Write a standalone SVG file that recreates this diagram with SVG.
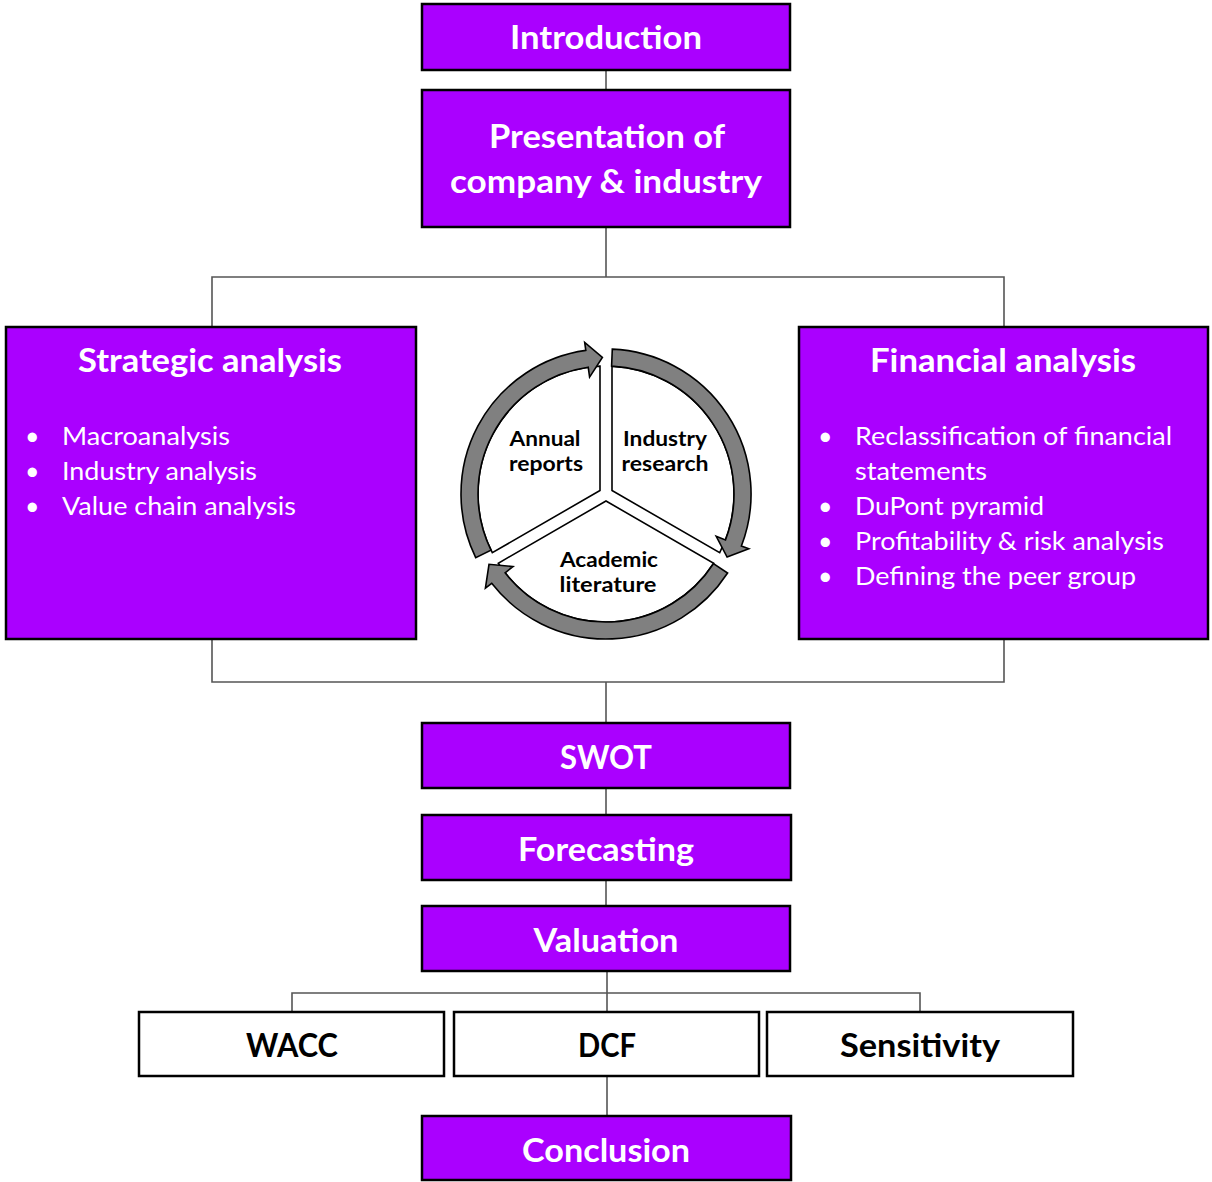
<svg xmlns="http://www.w3.org/2000/svg" width="1212" height="1182" viewBox="0 0 1212 1182">
<style>
.box{fill:#AA00FF;stroke:#000;stroke-width:2.5}
.wbox{fill:#fff;stroke:#000;stroke-width:2.5}
.h{font-family:Lato,"Liberation Sans",sans-serif;font-weight:bold;font-size:32px;fill:#fff;text-anchor:middle}
.hb{font-family:Lato,"Liberation Sans",sans-serif;font-weight:bold;font-size:32px;fill:#000;text-anchor:middle}
.b{font-family:Lato,"Liberation Sans",sans-serif;font-size:25px;fill:#fff}
.c{font-family:Lato,"Liberation Sans",sans-serif;font-weight:bold;font-size:20px;fill:#000;text-anchor:middle}
.ln{stroke:#555;stroke-width:1.6;fill:none}
.sec{fill:#fff;stroke:#000;stroke-width:1.6}
.arr{fill:#808080;stroke:#000;stroke-width:1.6;stroke-linejoin:miter}
</style>
<rect width="1212" height="1182" fill="#fff"/>
<g id="connectors">
<line class="ln" x1="606" y1="70" x2="606" y2="90"/>
<line class="ln" x1="606" y1="227" x2="606" y2="277"/>
<polyline class="ln" points="212,327 212,277 1004,277 1004,327"/>
<polyline class="ln" points="212,639 212,682 1004,682 1004,639"/>
<line class="ln" x1="606" y1="682" x2="606" y2="723"/>
<line class="ln" x1="606" y1="788" x2="606" y2="815"/>
<line class="ln" x1="606" y1="880" x2="606" y2="906"/>
<line class="ln" x1="607" y1="971" x2="607" y2="1012"/>
<polyline class="ln" points="292,1012 292,993 920,993 920,1012"/>
<line class="ln" x1="607" y1="1076" x2="607" y2="1116"/>
</g>
<g id="introduction">
<rect class="box" x="422" y="4" width="368" height="66"/>
<text class="h" x="606" y="49" textLength="192" lengthAdjust="spacingAndGlyphs">Introduction</text>
</g>
<g id="presentation">
<rect class="box" x="422" y="90" width="368" height="137"/>
<text class="h" x="607" y="148" textLength="236" lengthAdjust="spacingAndGlyphs">Presentation of</text>
<text class="h" x="606" y="193" textLength="312" lengthAdjust="spacingAndGlyphs">company &amp; industry</text>
</g>
<g id="strategic">
<rect class="box" x="6" y="327" width="410" height="312"/>
<text class="h" x="210" y="372" textLength="264" lengthAdjust="spacingAndGlyphs">Strategic analysis</text>
<text class="b" x="25" y="445">•</text>
<text class="b" x="62" y="445" textLength="168" lengthAdjust="spacingAndGlyphs">Macroanalysis</text>
<text class="b" x="25" y="480">•</text>
<text class="b" x="62" y="480" textLength="195" lengthAdjust="spacingAndGlyphs">Industry analysis</text>
<text class="b" x="25" y="515">•</text>
<text class="b" x="62" y="515" textLength="234" lengthAdjust="spacingAndGlyphs">Value chain analysis</text>
</g>
<g id="financial">
<rect class="box" x="799" y="327" width="409" height="312"/>
<text class="h" x="1003" y="372" textLength="266" lengthAdjust="spacingAndGlyphs">Financial analysis</text>
<text class="b" x="818" y="445">•</text>
<text class="b" x="855" y="445" textLength="317" lengthAdjust="spacingAndGlyphs">Reclassification of financial</text>
<text class="b" x="855" y="480" textLength="132" lengthAdjust="spacingAndGlyphs">statements</text>
<text class="b" x="818" y="515">•</text>
<text class="b" x="855" y="515" textLength="189" lengthAdjust="spacingAndGlyphs">DuPont pyramid</text>
<text class="b" x="818" y="550">•</text>
<text class="b" x="855" y="550" textLength="309" lengthAdjust="spacingAndGlyphs">Profitability &amp; risk analysis</text>
<text class="b" x="818" y="585">•</text>
<text class="b" x="855" y="585" textLength="281" lengthAdjust="spacingAndGlyphs">Defining the peer group</text>
</g>
<g id="cycle">
<path class="sec" d="M600,490.5 L600,366.1 A128,128 0 0 0 492.3,552.7 Z"/>
<path class="sec" d="M612,490.5 L612,366.1 A128,128 0 0 1 719.7,552.7 Z"/>
<path class="sec" d="M606,501 L713.7,563.2 A128,128 0 0 1 498.3,563.2 Z"/>
<path class="arr" d="M475.7,557.6 A145,145 0 0 1 585.8,350.4 L584.7,342.5 L602.4,357.5 L589.6,377.1 L588.2,367.2 A128,128 0 0 0 491.0,550.1 Z"/>
<path class="arr" d="M612.3,349.1 A145,145 0 0 1 741.4,546.0 L748.8,548.8 L727.1,557.0 L716.2,536.3 L725.5,539.9 A128,128 0 0 0 611.6,366.1 Z"/>
<path class="arr" d="M727.6,573.0 A145,145 0 0 1 491.7,583.3 L485.4,588.2 L489.0,564.3 L513.0,566.6 L505.1,572.8 A128,128 0 0 0 713.4,563.7 Z"/>
<text class="c" x="545" y="446" textLength="71" lengthAdjust="spacingAndGlyphs">Annual</text>
<text class="c" x="546" y="471" textLength="74" lengthAdjust="spacingAndGlyphs">reports</text>
<text class="c" x="665" y="446" textLength="84" lengthAdjust="spacingAndGlyphs">Industry</text>
<text class="c" x="665" y="471" textLength="87" lengthAdjust="spacingAndGlyphs">research</text>
<text class="c" x="609" y="567" textLength="98" lengthAdjust="spacingAndGlyphs">Academic</text>
<text class="c" x="608" y="592" textLength="97" lengthAdjust="spacingAndGlyphs">literature</text>
</g>
<g id="swot">
<rect class="box" x="422" y="723" width="368" height="65"/>
<text class="h" x="606" y="769" textLength="92" lengthAdjust="spacingAndGlyphs">SWOT</text>
</g>
<g id="forecasting">
<rect class="box" x="422" y="815" width="369" height="65"/>
<text class="h" x="606" y="861" textLength="176" lengthAdjust="spacingAndGlyphs">Forecasting</text>
</g>
<g id="valuation">
<rect class="box" x="422" y="906" width="368" height="65"/>
<text class="h" x="606" y="952" textLength="145" lengthAdjust="spacingAndGlyphs">Valuation</text>
</g>
<g id="wacc">
<rect class="wbox" x="139" y="1012" width="305" height="64"/>
<text class="hb" x="292" y="1057" textLength="92" lengthAdjust="spacingAndGlyphs">WACC</text>
</g>
<g id="dcf">
<rect class="wbox" x="454" y="1012" width="305" height="64"/>
<text class="hb" x="607" y="1057" textLength="58" lengthAdjust="spacingAndGlyphs">DCF</text>
</g>
<g id="sensitivity">
<rect class="wbox" x="767" y="1012" width="306" height="64"/>
<text class="hb" x="920" y="1057" textLength="160" lengthAdjust="spacingAndGlyphs">Sensitivity</text>
</g>
<g id="conclusion">
<rect class="box" x="422" y="1116" width="369" height="64"/>
<text class="h" x="606" y="1162" textLength="168" lengthAdjust="spacingAndGlyphs">Conclusion</text>
</g>
</svg>
